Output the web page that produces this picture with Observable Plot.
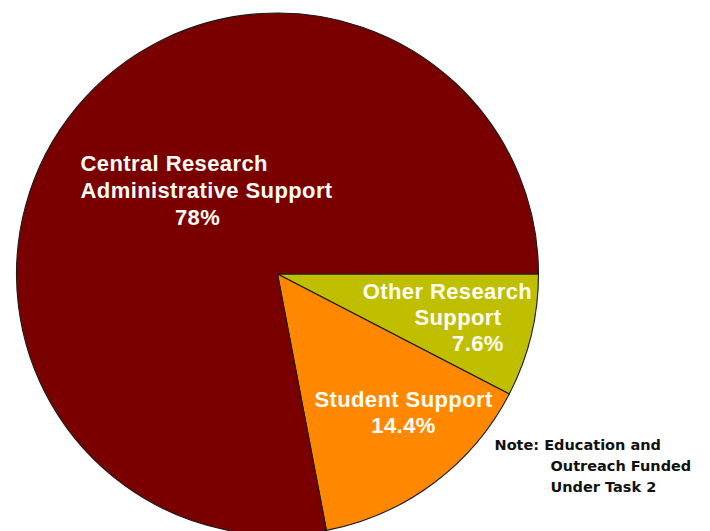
<!DOCTYPE html>
<html>
<head>
<meta charset="utf-8">
<script src="https://cdn.jsdelivr.net/npm/d3@7"></script>
<script src="https://cdn.jsdelivr.net/npm/@observablehq/plot@0.6"></script>
<style>
  html, body { margin: 0; padding: 0; background: #ffffff; }
  #chart { width: 710px; height: 531px; overflow: hidden; }
</style>
</head>
<body>
<div id="chart"></div>
<script>
// ---------- data ----------
const categories = ["Other Research Support", "Student Support", "Central Research Administrative Support"];
const shares = [7.6, 14.4, 78];
const pctLabels = ["7.6%", "14.4%", "78%"];
const nameLines = [["Other Research", "Support"], ["Student Support"], ["Central Research", "Administrative Support"]];
const sliceColors = ["#bfbf00", "#ff8800", "#7a0000"];
const noteLines = ["Note: Education and", "Outreach Funded", "Under Task 2"];

// ---------- layout ----------
const W = 710, H = 531;
const CX = 277.5, CY = 274, R = 261;   // pie centre and radius (px)
const labelRadius = 0.6;               // label centroid radius (fraction of R)
// per slice, per line: [dx, dy, anchor] px from the slice centroid (last line = percentage)
const lineLayout = [
  [[17.3, -20, "middle"], [27.8, 6, "middle"], [47.8, 32, "middle"]],
  [[31.9, -0.5, "middle"], [31.9, 25.5, "middle"]],
  [[-76.8, -11.2, "start"], [-76.8, 15.8, "start"], [40.2, 42.8, "middle"]]
];
// note: [x, y] px of each line's start / vertical centre
const noteLayout = [[494, 445], [550, 466], [550, 487]];

// ---------- pie geometry ----------
const arcs = d3.pie().sort(null).value(d => d)
  .startAngle(Math.PI / 2).endAngle(Math.PI / 2 + 2 * Math.PI)(shares);

const labelRows = [];
arcs.forEach((a, i) => {
  const mid = (a.startAngle + a.endAngle) / 2;
  const cx = labelRadius * Math.sin(mid), cy = labelRadius * Math.cos(mid);
  const texts = [...nameLines[i], pctLabels[i]];
  texts.forEach((t, j) => {
    const [dx, dy, anchor] = lineLayout[i][j];
    labelRows.push({text: t, x: cx + dx / R, y: cy - dy / R, anchor});
  });
});
const noteRows = noteLines.map((t, i) => ({
  text: t,
  x: (noteLayout[i][0] - CX) / R,
  y: (CY - noteLayout[i][1]) / R
}));

// custom render mark drawing the slices through Plot's x/y/color scales
function pieMark(index, scales) {
  const x0 = scales.x(0), y0 = scales.y(0);
  const r = scales.x(1) - scales.x(0);
  const arcGen = d3.arc().innerRadius(0).outerRadius(r);
  const g = d3.create("svg:g").attr("aria-label", "pie").attr("transform", `translate(${x0},${y0})`);
  g.selectAll("path").data(arcs).join("path")
    .attr("d", arcGen)
    .attr("fill", (d, i) => scales.color ? scales.color(categories[i]) : sliceColors[i])
    .attr("stroke", "#1a1a1a")
    .attr("stroke-width", 1.1)
    .attr("stroke-linejoin", "round");
  return g.node();
}

const labelFont = "'Liberation Sans', Arial, Helvetica, sans-serif";
const labelFill = "#fffdf5";

const chart = Plot.plot({
  width: W,
  height: H,
  marginLeft: CX - R,
  marginRight: W - CX - R,
  marginTop: CY - R,
  marginBottom: 0,
  x: {domain: [-1, 1], axis: null},
  y: {domain: [-(H - CY) / R, 1], axis: null},
  color: {domain: categories, range: sliceColors},
  style: {background: "#ffffff", overflow: "visible"},
  marks: [
    pieMark,
    Plot.text(labelRows.filter(d => d.anchor === "start"), {
      x: "x", y: "y", text: "text", textAnchor: "start", lineAnchor: "middle",
      fill: labelFill, fontSize: 22, fontWeight: "bold", fontFamily: labelFont
    }),
    Plot.text(labelRows.filter(d => d.anchor === "middle"), {
      x: "x", y: "y", text: "text", textAnchor: "middle", lineAnchor: "middle",
      fill: labelFill, fontSize: 22, fontWeight: "bold", fontFamily: labelFont
    }),
    Plot.text(noteRows, {
      x: "x", y: "y", text: "text", textAnchor: "start", lineAnchor: "middle",
      fill: "#111111", fontSize: 14.5, fontWeight: "bold",
      fontFamily: "'DejaVu Sans', Verdana, sans-serif"
    })
  ]
});

// slightly wider tracking for the slice labels, as in the original
d3.select(chart).selectAll(`g[fill="${labelFill}"]`).style("letter-spacing", "0.4px");

document.getElementById("chart").appendChild(chart);
</script>
</body>
</html>
